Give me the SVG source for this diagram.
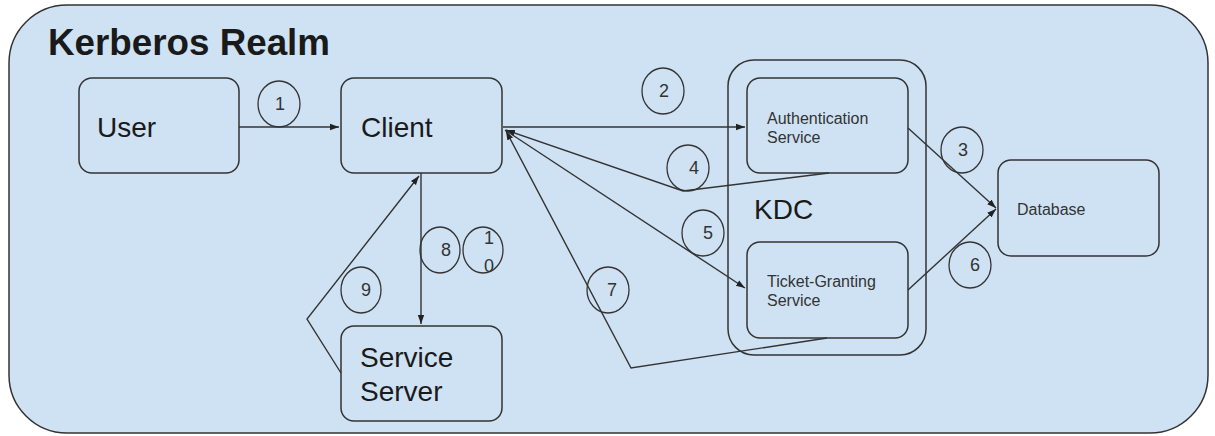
<svg xmlns="http://www.w3.org/2000/svg" width="1215" height="436" viewBox="0 0 1215 436">
<style>
.box{fill:#cfe2f3;stroke:#333;stroke-width:1.5}
.lbl{font-family:"Liberation Sans",Arial,sans-serif;fill:#1a1a1a}
.big{font-size:28px}
.small{font-size:16px;fill:#333}
.num{font-family:"Liberation Sans",Arial,sans-serif;font-size:18px;fill:#333;text-anchor:middle}
.circ{fill:none;stroke:#333;stroke-width:1.3}
.con{fill:none;stroke:#333;stroke-width:1.4}
</style>
<defs>
<marker id="ah" markerUnits="userSpaceOnUse" markerWidth="10" markerHeight="8" refX="9" refY="4" orient="auto">
<path d="M0,0.8 L9,4 L0,7.2 Z" fill="#222"/>
</marker>
</defs>
<rect width="1215" height="436" fill="#ffffff"/>
<g id="realm">
<rect x="9" y="5" width="1199" height="428" rx="58" ry="58" class="box"/>
<text x="48" y="55" class="lbl" font-size="36" font-weight="bold" textLength="282" lengthAdjust="spacingAndGlyphs" fill="#111">Kerberos Realm</text>
</g>
<g id="kdc">
<rect x="728" y="60" width="198" height="295" rx="26" ry="26" class="box"/>
<text x="754" y="219" class="lbl big">KDC</text>
</g>
<g id="user">
<rect x="79" y="78" width="160" height="95" rx="13" class="box"/>
<text x="97" y="137" class="lbl big">User</text>
</g>
<g id="client">
<rect x="341" y="78" width="161" height="95" rx="13" class="box"/>
<text x="361" y="137" class="lbl big">Client</text>
</g>
<g id="auth">
<rect x="747" y="78" width="161" height="95" rx="13" class="box"/>
<text x="767" y="124" class="lbl small">Authentication</text>
<text x="767" y="143" class="lbl small">Service</text>
</g>
<g id="tgs">
<rect x="747" y="242" width="161" height="96" rx="13" class="box"/>
<text x="767" y="287" class="lbl small">Ticket-Granting</text>
<text x="767" y="306" class="lbl small">Service</text>
</g>
<g id="database">
<rect x="998" y="160" width="161" height="96" rx="13" class="box"/>
<text x="1017" y="215" class="lbl small">Database</text>
</g>
<g id="server">
<rect x="341" y="326" width="161" height="95" rx="13" class="box"/>
<text x="360" y="367" class="lbl big">Service</text>
<text x="360" y="401" class="lbl big">Server</text>
</g>
<g id="connectors">
<path class="con" d="M239,127 L339,127" marker-end="url(#ah)"/>
<path class="con" d="M503,127 L745,127" marker-end="url(#ah)"/>
<path class="con" d="M908,128 L996,208" marker-end="url(#ah)"/>
<path class="con" d="M908,290 L996,209" marker-end="url(#ah)"/>
<path class="con" d="M829,173 L683,191 L506,130" marker-end="url(#ah)"/>
<path class="con" d="M505,130 L745,288" marker-end="url(#ah)"/>
<path class="con" d="M827,338 L631,368 L506,131" marker-end="url(#ah)"/>
<path class="con" d="M421,173 L421,324" marker-end="url(#ah)"/>
<path class="con" d="M341,373 L307,319 L419,176" marker-end="url(#ah)"/>
</g>
<g id="step-labels">
<ellipse cx="279" cy="104" rx="21" ry="23" class="circ"/><text x="280" y="110" class="num">1</text>
<ellipse cx="663" cy="91" rx="21" ry="23" class="circ"/><text x="664" y="97" class="num">2</text>
<ellipse cx="962" cy="150" rx="21" ry="23" class="circ"/><text x="963" y="156" class="num">3</text>
<ellipse cx="688" cy="168" rx="21" ry="23" class="circ"/><text x="694" y="174" class="num">4</text>
<ellipse cx="703" cy="233" rx="21" ry="23" class="circ"/><text x="708" y="239" class="num">5</text>
<ellipse cx="970" cy="265" rx="21" ry="23" class="circ"/><text x="975" y="271" class="num">6</text>
<ellipse cx="608" cy="290" rx="21" ry="23" class="circ"/><text x="612" y="296" class="num">7</text>
<ellipse cx="440" cy="250" rx="20" ry="23" class="circ"/><text x="446" y="256" class="num">8</text>
<ellipse cx="483" cy="250" rx="20" ry="23" class="circ"/><text x="489" y="244" class="num">1</text><text x="489" y="272" class="num">0</text>
<ellipse cx="361" cy="290" rx="20" ry="23" class="circ"/><text x="366" y="296" class="num">9</text>
</g>
</svg>
